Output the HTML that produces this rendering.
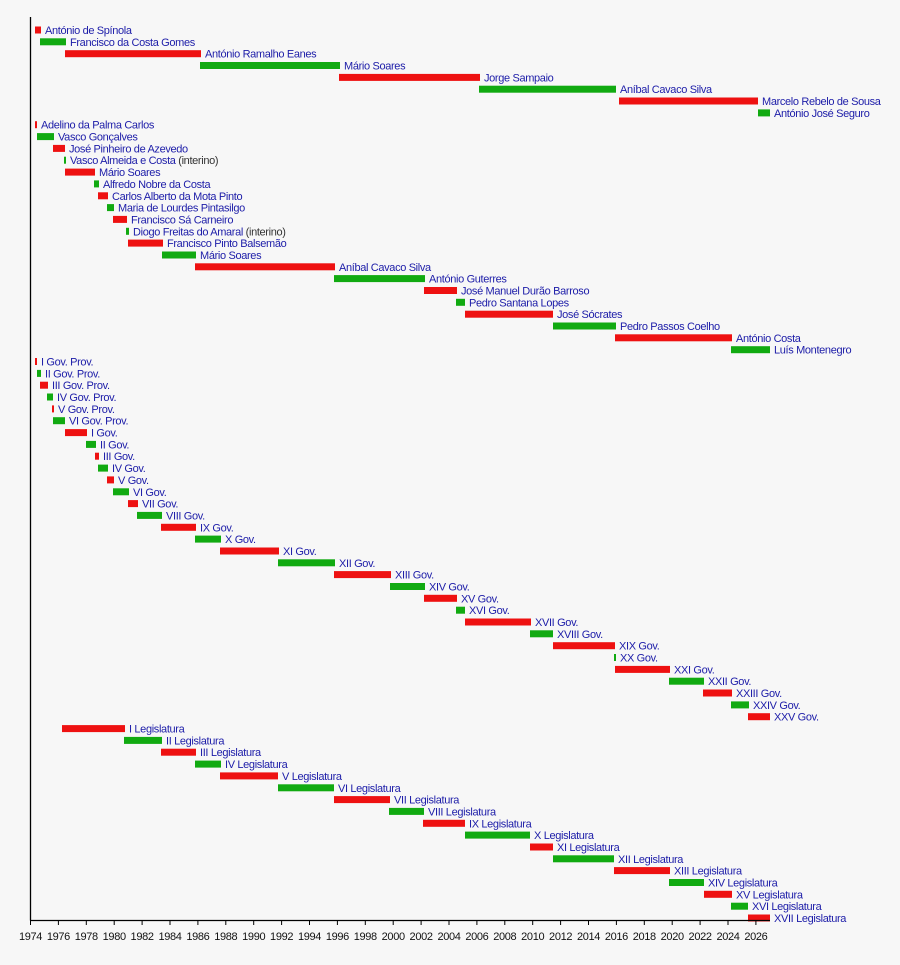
<!DOCTYPE html>
<html><head><meta charset="utf-8"><style>
html,body{margin:0;padding:0;background:#f7f7f7;}
svg text{font-family:"Liberation Sans",sans-serif;font-size:11px;letter-spacing:-0.35px;fill:#1c1ca8;}
</style></head><body>
<svg id="s" width="900" height="960" xmlns="http://www.w3.org/2000/svg">
<rect width="900" height="960" fill="#f7f7f7"/>
<g id="bars"></g>
<line x1="30.5" y1="17" x2="30.5" y2="920.5" stroke="#000" stroke-width="1.3"/>
<line x1="30" y1="920.5" x2="770" y2="920.5" stroke="#000" stroke-width="1.3"/>
<g id="ax"></g>
</svg>
<script>
var D=[
[35,41,"António de Spínola"],[40,66,"Francisco da Costa Gomes"],[65,201,"António Ramalho Eanes"],[200,340,"Mário Soares"],[339,480,"Jorge Sampaio"],[479,616,"Aníbal Cavaco Silva"],[619,758,"Marcelo Rebelo de Sousa"],[758,770,"António José Seguro"],
[35,37,"Adelino da Palma Carlos"],[37,54,"Vasco Gonçalves"],[53,65,"José Pinheiro de Azevedo"],[64,66,"Vasco Almeida e Costa",1],[65,95,"Mário Soares"],[94,99,"Alfredo Nobre da Costa"],[98,108,"Carlos Alberto da Mota Pinto"],[107,114,"Maria de Lourdes Pintasilgo"],[113,127,"Francisco Sá Carneiro"],[126,129,"Diogo Freitas do Amaral",1],[128,163,"Francisco Pinto Balsemão"],[162,196,"Mário Soares"],[195,335,"Aníbal Cavaco Silva"],[334,425,"António Guterres"],[424,457,"José Manuel Durão Barroso"],[456,465,"Pedro Santana Lopes"],[465,553,"José Sócrates"],[553,616,"Pedro Passos Coelho"],[615,732,"António Costa"],[731,770,"Luís Montenegro"],
[35,37,"I Gov. Prov."],[37,41,"II Gov. Prov."],[40,48,"III Gov. Prov."],[47,53,"IV Gov. Prov."],[52,54,"V Gov. Prov."],[53,65,"VI Gov. Prov."],[65,87,"I Gov."],[86,96,"II Gov."],[95,99,"III Gov."],[98,108,"IV Gov."],[107,114,"V Gov."],[113,129,"VI Gov."],[128,138,"VII Gov."],[137,162,"VIII Gov."],[161,196,"IX Gov."],[195,221,"X Gov."],[220,279,"XI Gov."],[278,335,"XII Gov."],[334,391,"XIII Gov."],[390,425,"XIV Gov."],[424,457,"XV Gov."],[456,465,"XVI Gov."],[465,531,"XVII Gov."],[530,553,"XVIII Gov."],[553,615,"XIX Gov."],[614,616,"XX Gov."],[615,670,"XXI Gov."],[669,704,"XXII Gov."],[703,732,"XXIII Gov."],[731,749,"XXIV Gov."],[748,770,"XXV Gov."],
[62,125,"I Legislatura"],[124,162,"II Legislatura"],[161,196,"III Legislatura"],[195,221,"IV Legislatura"],[220,278,"V Legislatura"],[278,334,"VI Legislatura"],[334,390,"VII Legislatura"],[389,424,"VIII Legislatura"],[423,465,"IX Legislatura"],[465,530,"X Legislatura"],[530,553,"XI Legislatura"],[553,614,"XII Legislatura"],[614,670,"XIII Legislatura"],[669,704,"XIV Legislatura"],[704,732,"XV Legislatura"],[731,748,"XVI Legislatura"],[748,770,"XVII Legislatura"]];
var starts=[0,8,28,59],h="";
for(var i=0;i<D.length;i++){
 var g=0;for(var k=0;k<4;k++)if(i>=starts[k])g=starts[k];
 var c=((i-g)%2==0)?"#ee1111":"#11aa11";
 var y=30+i*11.84,d=D[i];
 h+='<rect x="'+d[0]+'" y="'+(y-3.5).toFixed(1)+'" width="'+(d[1]-d[0])+'" height="7" fill="'+c+'"/>';
 h+='<text x="'+(d[1]+4)+'" y="'+(y+4).toFixed(1)+'">'+d[2]+(d[3]?'<tspan style="fill:#333"> (interino)</tspan>':'')+'</text>';
}
document.getElementById("bars").innerHTML=h;
var a="";
for(var yr=1974;yr<=2026;yr+=2){var x=30.5+(yr-1974)*13.95;
 a+='<line x1="'+x+'" y1="920" x2="'+x+'" y2="925" stroke="#000" stroke-width="1"/>';
 a+='<text x="'+x+'" y="940" text-anchor="middle" style="fill:#111">'+yr+'</text>';}
document.getElementById("ax").innerHTML=a;
</script>
</body></html>
